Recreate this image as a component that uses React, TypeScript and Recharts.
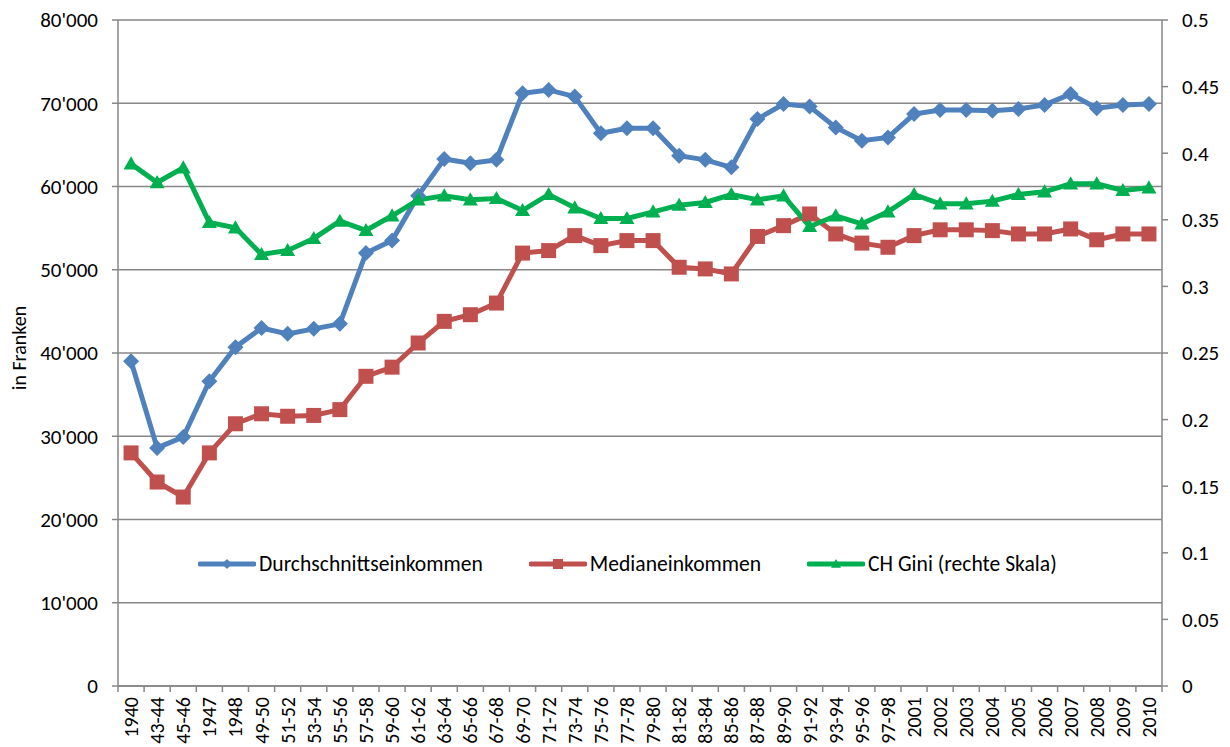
import React from 'react';
import { LineChart, Line, XAxis, YAxis, CartesianGrid, Legend } from 'recharts';

const categories = [
  '1940', '43-44', '45-46', '1947', '1948', '49-50', '51-52', '53-54', '55-56', '57-58',
  '59-60', '61-62', '63-64', '65-66', '67-68', '69-70', '71-72', '73-74', '75-76', '77-78',
  '79-80', '81-82', '83-84', '85-86', '87-88', '89-90', '91-92', '93-94', '95-96', '97-98',
  '2001', '2002', '2003', '2004', '2005', '2006', '2007', '2008', '2009', '2010',
];

// Durchschnittseinkommen (Franken)
const avgIncome = [
  39000, 28600, 29900, 36600, 40700, 43000, 42300, 42900, 43500, 52000,
  53500, 58900, 63300, 62800, 63200, 71200, 71600, 70800, 66400, 67000,
  67000, 63700, 63200, 62300, 68100, 69900, 69600, 67100, 65500, 65900,
  68700, 69200, 69200, 69100, 69300, 69800, 71100, 69400, 69800, 69900,
];

// Medianeinkommen (Franken)
const medianIncome = [
  28000, 24500, 22700, 28000, 31500, 32700, 32400, 32500, 33200, 37200,
  38300, 41200, 43800, 44600, 46000, 52000, 52300, 54100, 52900, 53500,
  53500, 50300, 50100, 49500, 54000, 55300, 56700, 54300, 53200, 52700,
  54100, 54800, 54800, 54700, 54300, 54300, 54900, 53600, 54300, 54300,
];

// CH Gini (rechte Skala)
const giniValues = [
  0.392, 0.378, 0.389, 0.348, 0.344, 0.324, 0.327, 0.336, 0.349, 0.342,
  0.353, 0.365, 0.368, 0.365, 0.366, 0.357, 0.369, 0.359, 0.351, 0.351,
  0.356, 0.361, 0.363, 0.369, 0.365, 0.368, 0.345, 0.353, 0.347, 0.356,
  0.369, 0.362, 0.362, 0.364, 0.369, 0.371, 0.377, 0.377, 0.372, 0.374,
];

const leftTicks = [0, 10000, 20000, 30000, 40000, 50000, 60000, 70000, 80000];
const rightTicks = [0, 0.05, 0.1, 0.15, 0.2, 0.25, 0.3, 0.35, 0.4, 0.45, 0.5];

const data = categories.map((period, i) => ({
  period,
  avg: avgIncome[i],
  median: medianIncome[i],
  gini: giniValues[i],
}));

const SERIES_ORDER = ['avg', 'median', 'gini'];

const FONT = 'Carlito, Lato, "Open Sans", sans-serif';
const AXIS = '#868686';
const BLUE = '#4F81BD';
const RED = '#C0504D';
const GREEN = '#00B050';

const CHART_W = 1230;
const CHART_H = 747;
const MARGIN = { top: 20, right: 8, bottom: 6, left: 18 };
const LEFT_W = 100;
const RIGHT_W = 60;
const X_H = 55;
const BAND = (CHART_W - MARGIN.left - LEFT_W - MARGIN.right - RIGHT_W) / categories.length;

const formatFranken = (v: number) => (v === 0 ? '0' : `${v / 1000}'000`);

const Diamond = ({ cx, cy, size = 8, color }: any) => (
  <polygon points={`${cx},${cy - size} ${cx + size},${cy} ${cx},${cy + size} ${cx - size},${cy}`} fill={color} />
);
const Square = ({ cx, cy, size = 7.5, color }: any) => (
  <rect x={cx - size} y={cy - size} width={size * 2} height={size * 2} fill={color} />
);
const Triangle = ({ cx, cy, size = 7.5, color }: any) => (
  <polygon points={`${cx},${cy - size} ${cx + size},${cy + size * 0.75} ${cx - size},${cy + size * 0.75}`} fill={color} />
);

const shapes: Record<string, any> = { avg: Diamond, median: Square, gini: Triangle };

const makeDot = (key: string, color: string) => (props: any) => {
  const Shape = shapes[key];
  if (props.cx == null || props.cy == null) return <g key={`${key}-${props.index}`} />;
  return (
    <g key={`${key}-${props.index}`}>
      <Shape cx={props.cx} cy={props.cy} color={color} />
    </g>
  );
};

const XTick = (props: any) => {
  const { x, y, payload, index } = props;
  const last = index === categories.length - 1;
  const ty = y + 11;
  return (
    <g>
      <line x1={x - BAND / 2} y1={y} x2={x - BAND / 2} y2={y + 6} stroke={AXIS} strokeWidth={1.5} />
      {last && <line x1={x + BAND / 2} y1={y} x2={x + BAND / 2} y2={y + 6} stroke={AXIS} strokeWidth={1.5} />}
      <text
        x={x}
        y={ty}
        transform={`rotate(-90 ${x} ${ty})`}
        textAnchor="end"
        dominantBaseline="central"
        fontSize={20}
        fontFamily={FONT}
        fill="#000"
      >
        {payload.value}
      </text>
    </g>
  );
};

const LegendContent = (props: any) => {
  const items = [...(props.payload || [])].sort(
    (a: any, b: any) => SERIES_ORDER.indexOf(a.dataKey) - SERIES_ORDER.indexOf(b.dataKey)
  );
  return (
    <div style={{ display: 'flex', alignItems: 'center', gap: 46, fontFamily: FONT, fontSize: 21.6, color: '#000', lineHeight: '24px' }}>
      {items.map((item: any) => {
        const Shape = shapes[item.dataKey];
        return (
          <div key={item.dataKey} style={{ display: 'flex', alignItems: 'center' }}>
            <svg width={58} height={16} style={{ marginRight: 3 }}>
              <line x1={2} y1={8} x2={56} y2={8} stroke={item.color} strokeWidth={5} strokeLinecap="round" />
              <Shape cx={29} cy={8} size={5} color={item.color} />
            </svg>
            <span>{item.value}</span>
          </div>
        );
      })}
    </div>
  );
};

export default function App() {
  return (
    <div style={{ position: 'absolute', left: 0, top: 0, width: CHART_W, height: CHART_H, background: '#fff' }}>
      <LineChart width={CHART_W} height={CHART_H} data={data} margin={MARGIN}>
        <CartesianGrid yAxisId="left" vertical={false} stroke={AXIS} strokeWidth={1.5} />
        <XAxis
          dataKey="period"
          interval={0}
          height={X_H}
          padding={{ left: BAND / 2, right: BAND / 2 }}
          stroke={AXIS}
          strokeWidth={1.5}
          tickLine={false}
          tickSize={0}
          tickMargin={0}
          tick={<XTick />}
        />
        <YAxis
          yAxisId="left"
          width={LEFT_W}
          domain={[0, 80000]}
          ticks={leftTicks}
          tickFormatter={formatFranken}
          stroke={AXIS}
          strokeWidth={1.5}
          tickSize={6}
          tickMargin={14}
          tick={{ fill: '#000', fontSize: 21, fontFamily: FONT }}
          label={{
            content: () => (
              <text
                x={19}
                y={348}
                transform="rotate(-90 19 348)"
                textAnchor="middle"
                dominantBaseline="central"
                fontSize={20}
                fontFamily={FONT}
                fill="#000"
              >
                in Franken
              </text>
            ),
          }}
        />
        <YAxis
          yAxisId="right"
          orientation="right"
          width={RIGHT_W}
          domain={[0, 0.5]}
          ticks={rightTicks}
          stroke={AXIS}
          strokeWidth={1.5}
          tickSize={6}
          tickMargin={14}
          tick={{ fill: '#000', fontSize: 21, fontFamily: FONT, textAnchor: 'start' }}
        />
        <Legend
          layout="horizontal"
          verticalAlign="middle"
          align="center"
          wrapperStyle={{ left: 198, top: 552, width: 'auto' }}
          content={<LegendContent />}
        />
        <Line
          yAxisId="left"
          type="linear"
          dataKey="avg"
          name="Durchschnittseinkommen"
          stroke={BLUE}
          strokeWidth={5}
          dot={makeDot('avg', BLUE)}
          activeDot={false}
          isAnimationActive={false}
        />
        <Line
          yAxisId="left"
          type="linear"
          dataKey="median"
          name="Medianeinkommen"
          stroke={RED}
          strokeWidth={5}
          dot={makeDot('median', RED)}
          activeDot={false}
          isAnimationActive={false}
        />
        <Line
          yAxisId="right"
          type="linear"
          dataKey="gini"
          name="CH Gini (rechte Skala)"
          stroke={GREEN}
          strokeWidth={5}
          dot={makeDot('gini', GREEN)}
          activeDot={false}
          isAnimationActive={false}
        />
      </LineChart>
    </div>
  );
}
